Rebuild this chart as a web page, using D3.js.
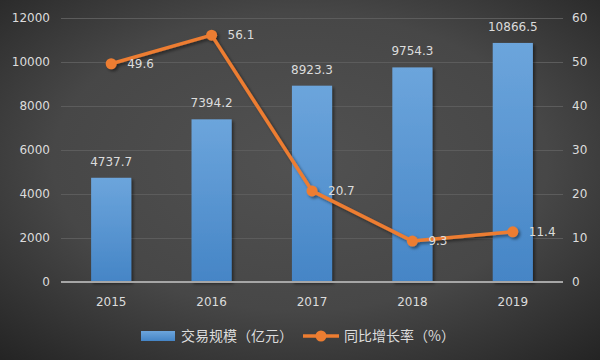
<!DOCTYPE html>
<html><head><meta charset="utf-8">
<script src="https://cdn.jsdelivr.net/npm/d3@7"></script>
<style>html,body{margin:0;padding:0;background:#333;}svg{display:block;}</style>
</head><body>
<svg id="c" width="600" height="360"></svg>
<script>
const years = ["2015","2016","2017","2018","2019"];
const volume = [4737.7, 7394.2, 8923.3, 9754.3, 10866.5];
const growth = [49.6, 56.1, 20.7, 9.3, 11.4];
const leftTicks = [0,2000,4000,6000,8000,10000,12000];
const rightTicks = [0,10,20,30,40,50,60];
const legendLabels = ["交易规模（亿元）","同比增长率（%）"];

const svg = d3.select("#c");
const W=600,H=360;
const defs = svg.append("defs");
const bg = defs.append("radialGradient").attr("id","bg").attr("cx","50%").attr("cy","45%").attr("r","75%");
bg.append("stop").attr("offset","0%").attr("stop-color","#515151");
bg.append("stop").attr("offset","55%").attr("stop-color","#474747");
bg.append("stop").attr("offset","100%").attr("stop-color","#232323");
const bg2 = defs.append("linearGradient").attr("id","bar").attr("x1",0).attr("y1",0).attr("x2",0).attr("y2",1);
bg2.append("stop").attr("offset","0%").attr("stop-color","#6ca5dc");
bg2.append("stop").attr("offset","100%").attr("stop-color","#4585c6");
const f = defs.append("filter").attr("id","sh").attr("x","-20%").attr("y","-20%").attr("width","150%").attr("height","150%");
f.append("feDropShadow").attr("dx",2).attr("dy",2).attr("stdDeviation",1.5).attr("flood-color","#000").attr("flood-opacity",0.45);

svg.append("rect").attr("width",W).attr("height",H).attr("fill","url(#bg)");

const x0=61,x1=563,yTop=18,yBot=282;
const x = d3.scaleBand().domain(years).range([x0,x1]).paddingInner(0.6).paddingOuter(0.3);
const yL = d3.scaleLinear().domain([0,12000]).range([yBot,yTop]);
const yR = d3.scaleLinear().domain([0,60]).range([yBot,yTop]);
const cx = d => x(d)+x.bandwidth()/2;

const font = "'DejaVu Sans', sans-serif";
const txt = "#dcdcdc";

// gridlines
svg.append("g").selectAll("line").data(leftTicks.filter(t=>t>0)).join("line")
  .attr("x1",x0).attr("x2",x1).attr("y1",d=>yL(d)+0.5).attr("y2",d=>yL(d)+0.5)
  .attr("stroke","#5c5c5c").attr("stroke-width",1);

// left axis
const la = svg.append("g").attr("transform",`translate(${x0},0)`)
  .call(d3.axisLeft(yL).tickValues(leftTicks).tickSize(0).tickPadding(11).tickFormat(d3.format("d")));
la.select(".domain").remove();
la.selectAll("text").attr("fill",txt).style("font-family",font).style("font-size","12px");
// right axis
const ra = svg.append("g").attr("transform",`translate(${x1},0)`)
  .call(d3.axisRight(yR).tickValues(rightTicks).tickSize(0).tickPadding(9).tickFormat(d3.format("d")));
ra.select(".domain").remove();
ra.selectAll("text").attr("fill",txt).style("font-family",font).style("font-size","12px");

// bars
svg.append("g").selectAll("rect").data(years).join("rect")
  .attr("x",d=>x(d)).attr("width",x.bandwidth())
  .attr("y",(d,i)=>yL(volume[i])).attr("height",(d,i)=>yBot-yL(volume[i]))
  .attr("fill","url(#bar)").attr("filter","url(#sh)");

// baseline
svg.append("line").attr("x1",x0).attr("x2",x1).attr("y1",yBot).attr("y2",yBot)
  .attr("stroke","#a6a6a6").attr("stroke-width",2);

// x axis
const xa = svg.append("g").attr("transform",`translate(0,${yBot})`)
  .call(d3.axisBottom(x).tickSize(0).tickPadding(15));
xa.select(".domain").remove();
xa.selectAll("text").attr("fill",txt).style("font-family",font).style("font-size","12px");

// bar labels
svg.append("g").selectAll("text").data(years).join("text")
  .attr("x",d=>cx(d)).attr("y",(d,i)=>yL(volume[i])-12)
  .attr("text-anchor","middle").attr("fill",txt).style("font-family",font).style("font-size","12px")
  .text((d,i)=>volume[i]);

// line
const line = d3.line().x((d,i)=>cx(years[i])).y(d=>yR(d));
const lg = svg.append("g").attr("filter","url(#sh)");
lg.append("path").datum(growth).attr("d",line).attr("fill","none")
  .attr("stroke","#ed7d31").attr("stroke-width",3.5).attr("stroke-linejoin","round");
lg.selectAll("circle").data(growth).join("circle")
  .attr("cx",(d,i)=>cx(years[i])).attr("cy",d=>yR(d)).attr("r",5.5).attr("fill","#ed7d31");

svg.append("g").selectAll("text").data(growth).join("text")
  .attr("x",(d,i)=>cx(years[i])+16).attr("y",d=>yR(d)).attr("dy","0.35em")
  .attr("fill",txt).style("font-family",font).style("font-size","12px")
  .text(d=>d.toFixed(1));

// legend
const leg = svg.append("g");
leg.append("rect").attr("x",141).attr("y",331).attr("width",34).attr("height",10).attr("fill","url(#bar)");
leg.append("text").attr("x",181).attr("y",336).attr("dy","0.35em").attr("fill",txt)
  .style("font-family","'Noto Sans CJK SC', sans-serif").style("font-size","14px").text(legendLabels[0]);
leg.append("line").attr("x1",303).attr("x2",339).attr("y1",336).attr("y2",336)
  .attr("stroke","#ed7d31").attr("stroke-width",3.5);
leg.append("circle").attr("cx",321).attr("cy",336).attr("r",5.5).attr("fill","#ed7d31");
leg.append("text").attr("x",344).attr("y",336).attr("dy","0.35em").attr("fill",txt)
  .style("font-family","'Noto Sans CJK SC', sans-serif").style("font-size","14px").text(legendLabels[1]);
</script>
</body></html>
